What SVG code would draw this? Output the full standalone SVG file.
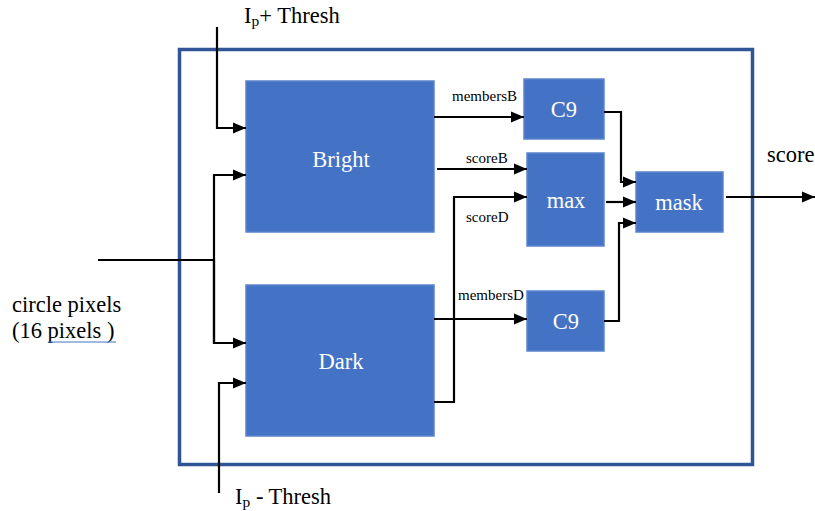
<svg xmlns="http://www.w3.org/2000/svg" width="815" height="511" viewBox="0 0 815 511" font-family="'Liberation Serif', 'Times New Roman', 'DejaVu Serif', serif">
<style>
text{font-family:'Liberation Serif','Times New Roman','DejaVu Serif',serif}
.blk{fill:#4472C4;stroke:#5B84CC;stroke-width:1.5}
.w{fill:#fff;font-size:22.5px;text-anchor:middle}
.t{fill:#000;font-size:22.5px}
.s{fill:#000;font-size:15px}
.c{fill:none;stroke:#000;stroke-width:2.2}
.a{marker-end:url(#ah)}
</style>
<defs>
<marker id="ah" markerUnits="userSpaceOnUse" markerWidth="14" markerHeight="14" viewBox="0 0 14 14" refX="13" refY="7" orient="auto">
<path d="M0,1.5 L13,7 L0,12.5 Z" fill="#000"/>
</marker>
</defs>
<rect width="815" height="511" fill="#fff"/>
<rect id="frame" x="179.5" y="49.5" width="573" height="415" fill="none" stroke="#2F5597" stroke-width="3.5"/>
<g id="bright"><rect class="blk" x="246" y="81" width="188" height="151"/><text class="w" x="341" y="167">Bright</text></g>
<g id="dark"><rect class="blk" x="246" y="285" width="188" height="151"/><text class="w" x="341" y="369">Dark</text></g>
<g id="c9top"><rect class="blk" x="524" y="79" width="80" height="60"/><text class="w" x="564" y="117">C9</text></g>
<g id="max"><rect class="blk" x="527" y="153" width="77" height="93"/><text class="w" x="566" y="208">max</text></g>
<g id="c9bot"><rect class="blk" x="527" y="291" width="77" height="60"/><text class="w" x="566" y="329">C9</text></g>
<g id="mask"><rect class="blk" x="636" y="172" width="87" height="60"/><text class="w" x="679" y="210">mask</text></g>
<g id="connectors">
<polyline class="c a" points="217,27 217,128 246,128"/>
<polyline class="c" points="98,260 214,260"/>
<polyline class="c a" points="214,343 214,175 246,175"/>
<polyline class="c a" points="214,260 214,343 246,343"/>
<polyline class="c a" points="219,493 219,383 246,383"/>
<polyline class="c a" points="434,117 524,117"/>
<polyline class="c a" points="437,169 527,169"/>
<polyline class="c a" points="434,402 454,402 454,197 527,197"/>
<polyline class="c a" points="434,319 527,319"/>
<polyline class="c a" points="604,112 621,112 621,182 636,182"/>
<polyline class="c a" points="606,202 636,202"/>
<polyline class="c a" points="604,321 619,321 619,223 636,223"/>
<polyline class="c a" points="726,197 815,197"/>
</g>
<g id="labels">
<text class="t" x="244" y="23">I<tspan font-size="15.5" dy="3">p</tspan><tspan dy="-3">+ Thresh</tspan></text>
<text class="t" x="235" y="504">I<tspan font-size="15.5" dy="3">p</tspan><tspan dy="-3"> - Thresh</tspan></text>
<text class="t" x="12" y="312">circle pixels</text>
<text class="t" x="12" y="338">(16 pixels )</text>
<line x1="48" y1="342" x2="116" y2="342" stroke="#4472C4" stroke-width="1"/>
<text class="t" x="767" y="162">score</text>
<text class="s" x="452" y="101">membersB</text>
<text class="s" x="466" y="163">scoreB</text>
<text class="s" x="466" y="222">scoreD</text>
<text class="s" x="458" y="300">membersD</text>
</g>
</svg>
